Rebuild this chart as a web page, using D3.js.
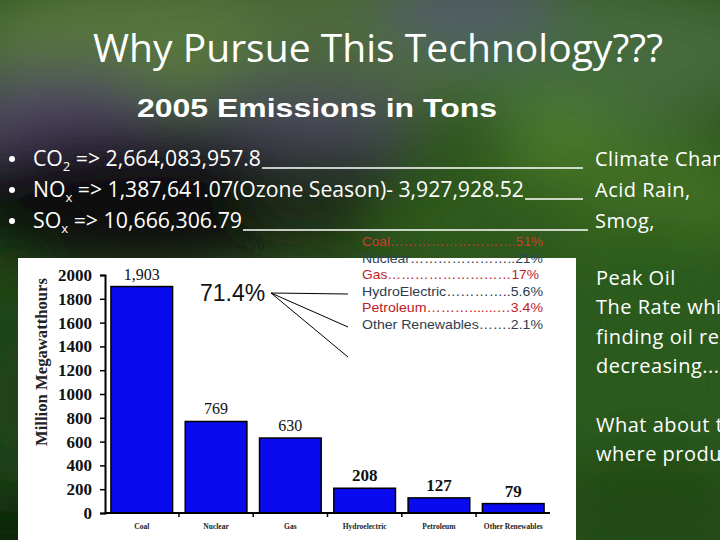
<!DOCTYPE html>
<html><head><meta charset="utf-8">
<script src="https://cdn.jsdelivr.net/npm/d3@7"></script>
<style>html,body{margin:0;padding:0;background:#000;}svg{display:block;}</style>
</head><body>
<svg id="c" width="720" height="540"></svg>
<script>
// ---- data ----
const categories = ["Coal","Nuclear","Gas","Hydroelectric","Petroleum","Other Renewables"];
const values = [1903, 769, 630, 208, 127, 79];
const valueLabels = ["1,903","769","630","208","127","79"];
const yTicks = [0,200,400,600,800,1000,1200,1400,1600,1800,2000];
const legendNames = ["Coal","Nuclear","Gas","HydroElectric","Petroleum","Other Renewables"];
const legendDots = ["……………………….","…………………..","………………………","…………..","……….......…","……."];
const legendPcts = ["51%","21%","17%","5.6%","3.4%","2.1%"];
const bullets = [
  {pre:"CO", sub:"2", post:" => 2,664,083,957.8"},
  {pre:"NO", sub:"x", post:" => 1,387,641.07(Ozone Season)- 3,927,928.52"},
  {pre:"SO", sub:"x", post:" => 10,666,306.79"}
];
const bulletNotes = ["Climate Change","Acid Rain,","Smog,"];
const sideText = ["Peak Oil","The Rate which","finding oil reserves is","decreasing...","","What about the","where produced"];

const svg = d3.select("#c");
const W = 720, H = 540;

// ---- background (blurred photo approximation) ----
const defs = svg.append("defs");
defs.append("filter").attr("id","blur").attr("x","-50%").attr("y","-50%").attr("width","200%").attr("height","200%")
  .append("feGaussianBlur").attr("stdDeviation", 28);
svg.append("rect").attr("width",W).attr("height",H).attr("fill","#2c531c");
const bg = svg.append("g").attr("filter","url(#blur)");
const blobs = [
  [360,40,420,70,"#4d6b3e"],[120,40,140,60,"#56763c"],[600,60,160,70,"#456a3c"],
  [60,120,110,50,"#4f4460"],[300,120,120,40,"#4a4858"],[470,10,90,30,"#555a70"],
  [140,200,200,70,"#0b0d08"],[330,200,90,50,"#1c2a12"],[620,200,140,70,"#3f6e22"],
  [480,220,120,40,"#2f5a1a"],[10,400,40,160,"#1f3f12"],[10,530,40,40,"#050805"],
  [650,380,110,160,"#2c5a1a"],[650,510,110,60,"#214a14"],[560,130,60,30,"#4a7a2a"]
];
blobs.forEach(b=>bg.append("ellipse").attr("cx",b[0]).attr("cy",b[1]).attr("rx",b[2]).attr("ry",b[3]).attr("fill",b[4]));

// ---- titles ----
svg.append("text").attr("x",93).attr("y",62).attr("font-family","Open Sans, Lato, sans-serif")
  .attr("font-size",38).attr("fill","#fff").attr("textLength",570).attr("lengthAdjust","spacingAndGlyphs")
  .text("Why Pursue This Technology???");
svg.append("text").attr("x",137).attr("y",117).attr("font-family","Liberation Sans, Arial, sans-serif")
  .attr("font-weight","bold").attr("font-size",26).attr("fill","#fff").attr("textLength",360).attr("lengthAdjust","spacingAndGlyphs")
  .text("2005 Emissions in Tons");

// ---- bullets ----
const bY = [166,197,228];
const bEnd = [261,524,242];
bullets.forEach((b,i)=>{
  svg.append("circle").attr("cx",12).attr("cy",bY[i]-7).attr("r",3).attr("fill","#fff");
  const t = svg.append("text").attr("x",33).attr("y",bY[i]).attr("font-family","Open Sans, Lato, sans-serif")
    .attr("font-size",21).attr("fill","#fff").attr("textLength",bEnd[i]-33).attr("lengthAdjust","spacingAndGlyphs");
  t.append("tspan").text(b.pre);
  t.append("tspan").attr("font-size",13).attr("dy",5).text(b.sub);
  t.append("tspan").attr("dy",-5).text(b.post);
  svg.append("line").attr("x1",bEnd[i]+1).attr("x2",i===2?588:583).attr("y1",bY[i]+2).attr("y2",bY[i]+2)
    .attr("stroke","#fff").attr("stroke-width",1.3);
  svg.append("text").attr("x",595).attr("y",bY[i]).attr("font-family","Open Sans, Lato, sans-serif")
    .attr("font-size",20).attr("letter-spacing",0.5).attr("fill","#fff").text(bulletNotes[i]);
});

// faint ghost text
svg.append("text").attr("x",236).attr("y",250).attr("font-family","Liberation Sans, Arial, sans-serif")
  .attr("font-size",20).attr("fill","#1a1a1a").attr("opacity",0.6).text("4%");
svg.append("line").attr("x1",270).attr("x2",300).attr("y1",241).attr("y2",247).attr("stroke","#222").attr("opacity",0.5);

// ---- white panel ----
svg.append("rect").attr("x",18).attr("y",258).attr("width",558).attr("height",282).attr("fill","#fff");

// ---- side text ----
sideText.forEach((s,i)=>{
  svg.append("text").attr("x",596).attr("y",285+i*29.3).attr("font-family","Open Sans, Lato, sans-serif")
    .attr("font-size",20).attr("letter-spacing",0.5).attr("fill","#fff").text(s);
});

// ---- bar chart ----
const x = d3.scaleBand().domain(categories).range([105,550]).paddingInner(0.17).paddingOuter(0.08);
const y = d3.scaleLinear().domain([0,2000]).range([513,275]);

const chart = svg.append("g");
chart.selectAll("rect.bar").data(values).join("rect").attr("class","bar")
  .attr("x",(d,i)=>x(categories[i])).attr("width",x.bandwidth())
  .attr("y",d=>y(d)).attr("height",d=>y(0)-y(d))
  .attr("fill","#0a0af0").attr("stroke","#000").attr("stroke-width",1.5);

chart.selectAll("text.val").data(values).join("text").attr("class","val")
  .attr("x",(d,i)=>x(categories[i])+x.bandwidth()/2).attr("y",d=>y(d)-7)
  .attr("text-anchor","middle").attr("font-family","Liberation Serif, Times New Roman, serif")
  .attr("font-size",(d,i)=>i>=3?17:16).attr("font-weight",(d,i)=>i>=3?"bold":"normal")
  .attr("fill","#111").text((d,i)=>valueLabels[i]);

// y axis
const yAxis = chart.append("g").attr("transform","translate(105,0)")
  .call(d3.axisLeft(y).tickValues(yTicks).tickSize(5).tickPadding(8).tickFormat(d3.format("d")));
yAxis.select(".domain").attr("stroke","#000").attr("stroke-width",2);
yAxis.selectAll(".tick line").attr("stroke","#000").attr("stroke-width",1.5);
yAxis.selectAll(".tick text").attr("font-family","Liberation Serif, Times New Roman, serif")
  .attr("font-weight","bold").attr("font-size",17).attr("fill","#111");

// x axis
const xAxis = chart.append("g").attr("transform","translate(0,513)")
  .call(d3.axisBottom(x).tickSize(0).tickPadding(11));
xAxis.select(".domain").attr("stroke","#000").attr("stroke-width",2).attr("d","M105,0H550");
xAxis.selectAll(".tick text").attr("font-family","Liberation Serif, Times New Roman, serif")
  .attr("font-weight","bold").attr("font-size",7.5).attr("fill","#222");
const sep = categories.slice(1).map(c=>x(c)-x.step()*x.paddingInner()/2);
xAxis.selectAll("line.sep").data(sep).join("line").attr("class","sep")
  .attr("x1",d=>d).attr("x2",d=>d).attr("y1",0).attr("y2",4).attr("stroke","#000").attr("stroke-width",1.5);

// y label
svg.append("text").attr("transform","translate(47,362) rotate(-90)").attr("text-anchor","middle")
  .attr("font-family","Liberation Serif, Times New Roman, serif").attr("font-weight","bold")
  .attr("font-size",16).attr("fill","#222").attr("textLength",168).attr("lengthAdjust","spacingAndGlyphs")
  .text("Million Megawatthours");

// ---- 71.4% callout ----
svg.append("text").attr("x",200).attr("y",301).attr("font-family","Liberation Sans, Arial, sans-serif")
  .attr("font-size",23).attr("fill","#111").text("71.4%");
[[348,294],[348,327],[348,357]].forEach(p=>{
  svg.append("line").attr("x1",271).attr("y1",293).attr("x2",p[0]).attr("y2",p[1]).attr("stroke","#000").attr("stroke-width",1);
});

// ---- legend ----
const legColors = ["#c8402a","#2d4456","#c02026","#2d3d4d","#c02026","#2d3d4d"];
const legW = [181,181,177,181,181,181];
legendNames.forEach((n,i)=>{
  svg.append("text").attr("x",362).attr("y",246+i*16.6).attr("font-family","Liberation Sans, Arial, sans-serif")
    .attr("font-size",13).attr("fill",legColors[i]).attr("textLength",legW[i]).attr("lengthAdjust","spacingAndGlyphs")
    .text(n+legendDots[i]+legendPcts[i]);
});
</script>
</body></html>
